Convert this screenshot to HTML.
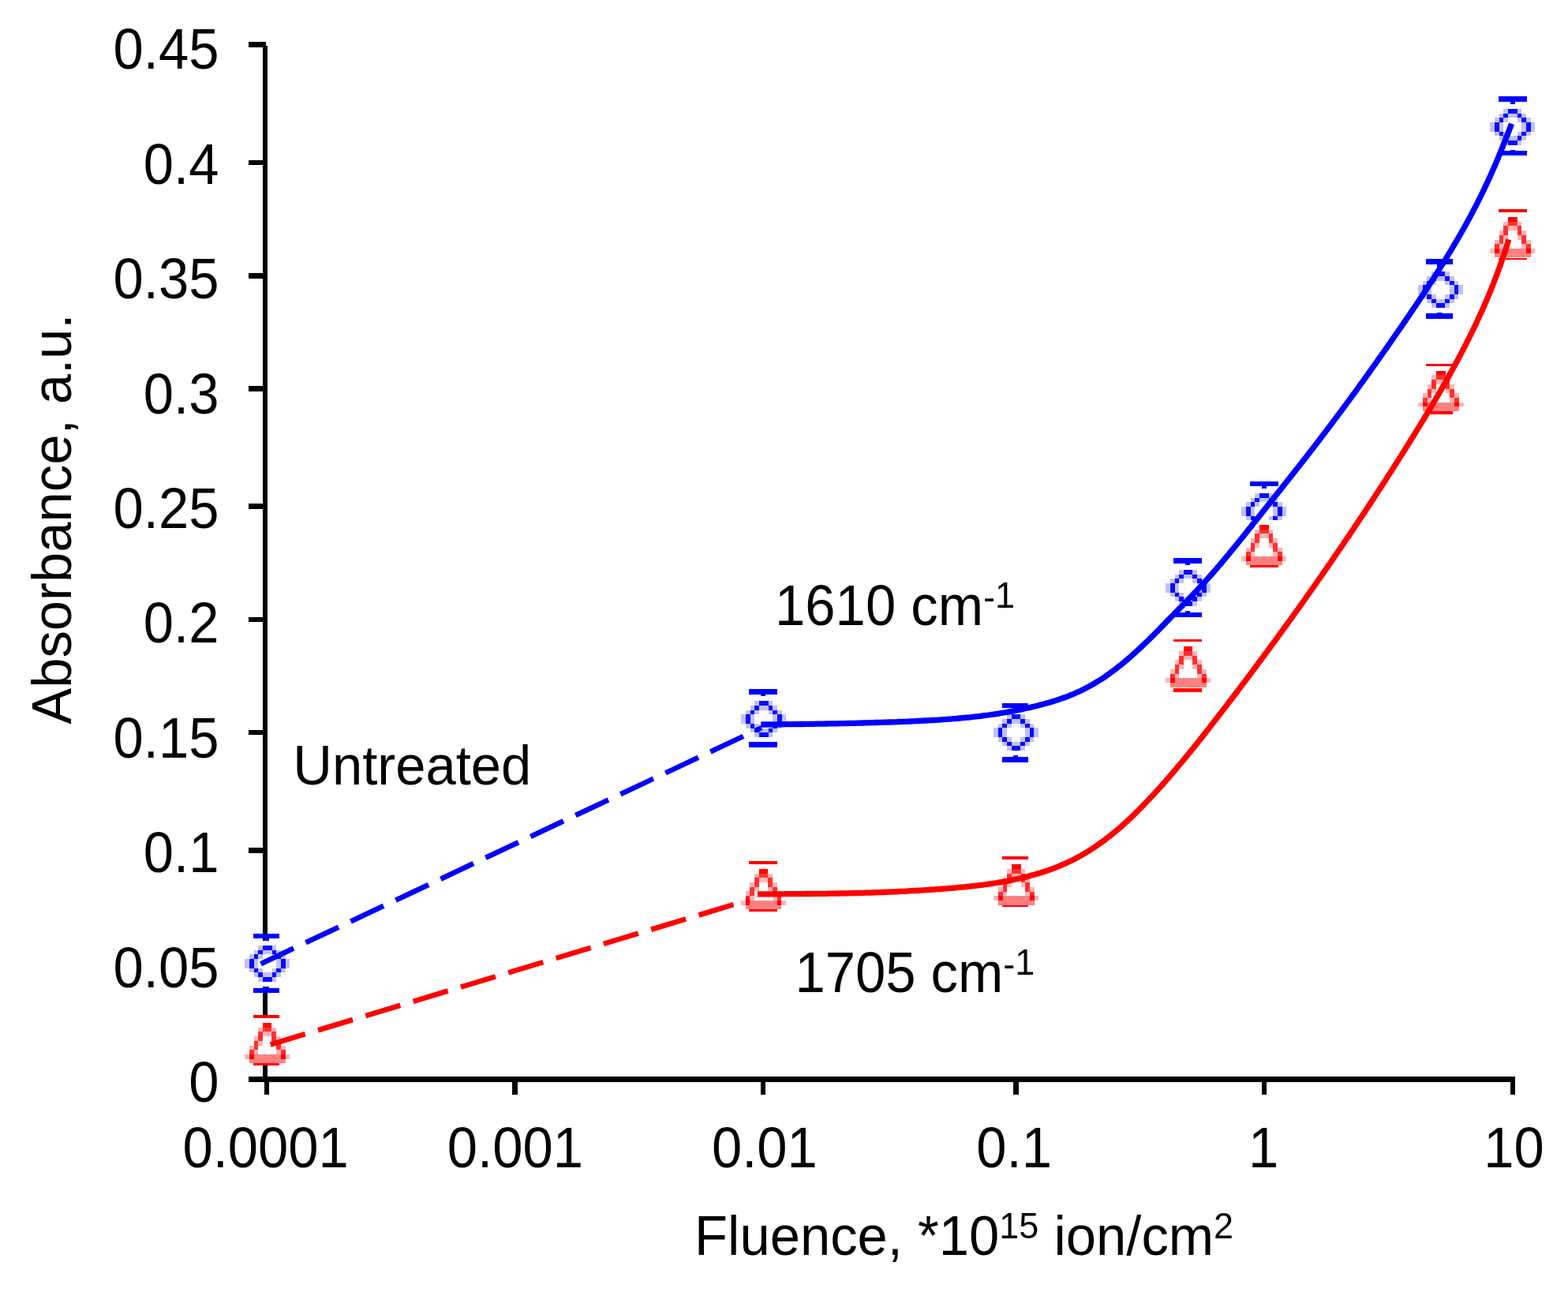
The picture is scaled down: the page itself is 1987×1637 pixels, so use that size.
<!DOCTYPE html>
<html><head><meta charset="utf-8"><title>Absorbance vs Fluence</title>
<style>html,body{margin:0;padding:0;background:#fff;} svg{display:block} text{font-family:"Liberation Sans", Arial, sans-serif;font-size:68.8px;fill:#000}</style>
</head><body>
<svg width="1987" height="1637" viewBox="0 0 1987 1637">
<rect width="1987" height="1637" fill="#fff"/>
<g shape-rendering="crispEdges">
<rect x="333" y="58" width="6" height="1313" fill="#000"/>
<rect x="315" y="53.2" width="22" height="6.6" fill="#000"/>
<rect x="315" y="202.7" width="22" height="6.6" fill="#000"/>
<rect x="315" y="346.2" width="22" height="6.6" fill="#000"/>
<rect x="315" y="489.1" width="22" height="6.6" fill="#000"/>
<rect x="315" y="638.2" width="22" height="6.6" fill="#000"/>
<rect x="315" y="781.7" width="22" height="6.6" fill="#000"/>
<rect x="315" y="924.7" width="22" height="6.6" fill="#000"/>
<rect x="315" y="1074.2" width="22" height="6.6" fill="#000"/>
<rect x="315" y="1217.7" width="22" height="6.6" fill="#000"/>
<rect x="315" y="1364.2" width="22" height="6.6" fill="#000"/>
<rect x="315" y="1364.2" width="1604.5" height="6.8" fill="#000"/>
<rect x="335" y="1370" width="6.0" height="17" fill="#000"/>
<rect x="649.3" y="1370" width="6.7" height="17" fill="#000"/>
<rect x="964" y="1370" width="6.0" height="17" fill="#000"/>
<rect x="1283.8" y="1370" width="6.8" height="17" fill="#000"/>
<rect x="1598.8" y="1370" width="6.3" height="17" fill="#000"/>
<rect x="1914" y="1370" width="6.0" height="17" fill="#000"/>
<rect x="334.5" y="1185.9499999999998" width="6" height="69.0" fill="#0000ff"/>
<rect x="321" y="1183.1" width="33.0" height="5.7" fill="#0000ff"/>
<rect x="321" y="1252" width="33.0" height="5.8" fill="#0000ff"/>
<rect x="964.0" y="876.5" width="6" height="66.9" fill="#0000ff"/>
<rect x="949" y="873" width="36.0" height="7.0" fill="#0000ff"/>
<rect x="949" y="940" width="36.0" height="6.7" fill="#0000ff"/>
<rect x="1283.5" y="893.9" width="6" height="68.5" fill="#0000ff"/>
<rect x="1270" y="891" width="33.0" height="5.8" fill="#0000ff"/>
<rect x="1270" y="959.1" width="33.0" height="6.6" fill="#0000ff"/>
<rect x="1502.0" y="710.45" width="6" height="68.5" fill="#0000ff"/>
<rect x="1487" y="707.1" width="36.0" height="6.7" fill="#0000ff"/>
<rect x="1487" y="776.2" width="36.0" height="5.5" fill="#0000ff"/>
<rect x="1599.0" y="612.95" width="6" height="42.8" fill="#0000ff"/>
<rect x="1584" y="610.1" width="36.0" height="5.7" fill="#0000ff"/>
<rect x="1821.0" y="331.4" width="6" height="69.2" fill="#0000ff"/>
<rect x="1807" y="328" width="34.0" height="6.8" fill="#0000ff"/>
<rect x="1807" y="397.1" width="34.0" height="6.9" fill="#0000ff"/>
<rect x="1914.0" y="125.45" width="6" height="68.5" fill="#0000ff"/>
<rect x="1899" y="122" width="36.0" height="6.9" fill="#0000ff"/>
<rect x="1899" y="191" width="36.0" height="5.9" fill="#0000ff"/>
<rect x="321" y="1286.1" width="33.0" height="3.6" fill="#ff0000"/>
<rect x="321" y="1347" width="33.0" height="2.7" fill="#ff0000"/>
<rect x="949" y="1091.1" width="36.0" height="3.7" fill="#ff0000"/>
<rect x="949" y="1152" width="36.0" height="2.8" fill="#ff0000"/>
<rect x="1270" y="1085" width="33.0" height="3.8" fill="#ff0000"/>
<rect x="1270" y="1146.2" width="33.0" height="2.5" fill="#ff0000"/>
<rect x="1487" y="810.1" width="36.0" height="2.7" fill="#ff0000"/>
<rect x="1487" y="872.1" width="36.0" height="4.9" fill="#ff0000"/>
<rect x="1584" y="715.9" width="36.0" height="3.0" fill="#ff0000"/>
<rect x="1807" y="461" width="34.0" height="3.0" fill="#ff0000"/>
<rect x="1807" y="521" width="34.0" height="3.8" fill="#ff0000"/>
<rect x="1899" y="265" width="36.0" height="3.9" fill="#ff0000"/>
<rect x="1899" y="326.6" width="36.0" height="2.2" fill="#ff0000"/>
<rect x="310.20" y="1192.15" width="57.20" height="57.50" fill="#fff"/>
<rect x="327.36" y="1197.90" width="5.72" height="5.75" fill="#c0c0ff"/>
<rect x="333.08" y="1197.90" width="11.44" height="5.75" fill="#0a0aff"/>
<rect x="344.52" y="1197.90" width="5.72" height="5.75" fill="#c0c0ff"/>
<rect x="321.64" y="1203.65" width="5.72" height="5.75" fill="#c0c0ff"/>
<rect x="327.36" y="1203.65" width="5.72" height="5.75" fill="#0a0aff"/>
<rect x="333.08" y="1203.65" width="11.44" height="5.75" fill="#c0c0ff"/>
<rect x="344.52" y="1203.65" width="5.72" height="5.75" fill="#0a0aff"/>
<rect x="350.24" y="1203.65" width="5.72" height="5.75" fill="#c0c0ff"/>
<rect x="315.92" y="1209.40" width="5.72" height="5.75" fill="#c0c0ff"/>
<rect x="321.64" y="1209.40" width="5.72" height="5.75" fill="#0a0aff"/>
<rect x="327.36" y="1209.40" width="5.72" height="5.75" fill="#c0c0ff"/>
<rect x="344.52" y="1209.40" width="5.72" height="5.75" fill="#c0c0ff"/>
<rect x="350.24" y="1209.40" width="5.72" height="5.75" fill="#0a0aff"/>
<rect x="355.96" y="1209.40" width="5.72" height="5.75" fill="#c0c0ff"/>
<rect x="310.20" y="1215.15" width="5.72" height="5.75" fill="#c0c0ff"/>
<rect x="315.92" y="1215.15" width="5.72" height="5.75" fill="#0a0aff"/>
<rect x="321.64" y="1215.15" width="5.72" height="5.75" fill="#c0c0ff"/>
<rect x="350.24" y="1215.15" width="5.72" height="5.75" fill="#c0c0ff"/>
<rect x="355.96" y="1215.15" width="5.72" height="5.75" fill="#0a0aff"/>
<rect x="361.68" y="1215.15" width="5.72" height="5.75" fill="#c0c0ff"/>
<rect x="310.20" y="1220.90" width="5.72" height="5.75" fill="#c0c0ff"/>
<rect x="315.92" y="1220.90" width="5.72" height="5.75" fill="#0a0aff"/>
<rect x="321.64" y="1220.90" width="5.72" height="5.75" fill="#c0c0ff"/>
<rect x="350.24" y="1220.90" width="5.72" height="5.75" fill="#c0c0ff"/>
<rect x="355.96" y="1220.90" width="5.72" height="5.75" fill="#0a0aff"/>
<rect x="361.68" y="1220.90" width="5.72" height="5.75" fill="#c0c0ff"/>
<rect x="315.92" y="1226.65" width="5.72" height="5.75" fill="#c0c0ff"/>
<rect x="321.64" y="1226.65" width="5.72" height="5.75" fill="#0a0aff"/>
<rect x="327.36" y="1226.65" width="5.72" height="5.75" fill="#c0c0ff"/>
<rect x="344.52" y="1226.65" width="5.72" height="5.75" fill="#c0c0ff"/>
<rect x="350.24" y="1226.65" width="5.72" height="5.75" fill="#0a0aff"/>
<rect x="355.96" y="1226.65" width="5.72" height="5.75" fill="#c0c0ff"/>
<rect x="321.64" y="1232.40" width="5.72" height="5.75" fill="#c0c0ff"/>
<rect x="327.36" y="1232.40" width="5.72" height="5.75" fill="#0a0aff"/>
<rect x="333.08" y="1232.40" width="11.44" height="5.75" fill="#c0c0ff"/>
<rect x="344.52" y="1232.40" width="5.72" height="5.75" fill="#0a0aff"/>
<rect x="350.24" y="1232.40" width="5.72" height="5.75" fill="#c0c0ff"/>
<rect x="327.36" y="1238.15" width="5.72" height="5.75" fill="#c0c0ff"/>
<rect x="333.08" y="1238.15" width="11.44" height="5.75" fill="#0a0aff"/>
<rect x="344.52" y="1238.15" width="5.72" height="5.75" fill="#c0c0ff"/>
<rect x="939.20" y="882.25" width="57.20" height="57.50" fill="#fff"/>
<rect x="956.36" y="888.00" width="5.72" height="5.75" fill="#c0c0ff"/>
<rect x="962.08" y="888.00" width="11.44" height="5.75" fill="#0a0aff"/>
<rect x="973.52" y="888.00" width="5.72" height="5.75" fill="#c0c0ff"/>
<rect x="950.64" y="893.75" width="5.72" height="5.75" fill="#c0c0ff"/>
<rect x="956.36" y="893.75" width="5.72" height="5.75" fill="#0a0aff"/>
<rect x="962.08" y="893.75" width="11.44" height="5.75" fill="#c0c0ff"/>
<rect x="973.52" y="893.75" width="5.72" height="5.75" fill="#0a0aff"/>
<rect x="979.24" y="893.75" width="5.72" height="5.75" fill="#c0c0ff"/>
<rect x="944.92" y="899.50" width="5.72" height="5.75" fill="#c0c0ff"/>
<rect x="950.64" y="899.50" width="5.72" height="5.75" fill="#0a0aff"/>
<rect x="956.36" y="899.50" width="5.72" height="5.75" fill="#c0c0ff"/>
<rect x="973.52" y="899.50" width="5.72" height="5.75" fill="#c0c0ff"/>
<rect x="979.24" y="899.50" width="5.72" height="5.75" fill="#0a0aff"/>
<rect x="984.96" y="899.50" width="5.72" height="5.75" fill="#c0c0ff"/>
<rect x="939.20" y="905.25" width="5.72" height="5.75" fill="#c0c0ff"/>
<rect x="944.92" y="905.25" width="5.72" height="5.75" fill="#0a0aff"/>
<rect x="950.64" y="905.25" width="5.72" height="5.75" fill="#c0c0ff"/>
<rect x="979.24" y="905.25" width="5.72" height="5.75" fill="#c0c0ff"/>
<rect x="984.96" y="905.25" width="5.72" height="5.75" fill="#0a0aff"/>
<rect x="990.68" y="905.25" width="5.72" height="5.75" fill="#c0c0ff"/>
<rect x="939.20" y="911.00" width="5.72" height="5.75" fill="#c0c0ff"/>
<rect x="944.92" y="911.00" width="5.72" height="5.75" fill="#0a0aff"/>
<rect x="950.64" y="911.00" width="5.72" height="5.75" fill="#c0c0ff"/>
<rect x="979.24" y="911.00" width="5.72" height="5.75" fill="#c0c0ff"/>
<rect x="984.96" y="911.00" width="5.72" height="5.75" fill="#0a0aff"/>
<rect x="990.68" y="911.00" width="5.72" height="5.75" fill="#c0c0ff"/>
<rect x="944.92" y="916.75" width="5.72" height="5.75" fill="#c0c0ff"/>
<rect x="950.64" y="916.75" width="5.72" height="5.75" fill="#0a0aff"/>
<rect x="956.36" y="916.75" width="5.72" height="5.75" fill="#c0c0ff"/>
<rect x="973.52" y="916.75" width="5.72" height="5.75" fill="#c0c0ff"/>
<rect x="979.24" y="916.75" width="5.72" height="5.75" fill="#0a0aff"/>
<rect x="984.96" y="916.75" width="5.72" height="5.75" fill="#c0c0ff"/>
<rect x="950.64" y="922.50" width="5.72" height="5.75" fill="#c0c0ff"/>
<rect x="956.36" y="922.50" width="5.72" height="5.75" fill="#0a0aff"/>
<rect x="962.08" y="922.50" width="11.44" height="5.75" fill="#c0c0ff"/>
<rect x="973.52" y="922.50" width="5.72" height="5.75" fill="#0a0aff"/>
<rect x="979.24" y="922.50" width="5.72" height="5.75" fill="#c0c0ff"/>
<rect x="956.36" y="928.25" width="5.72" height="5.75" fill="#c0c0ff"/>
<rect x="962.08" y="928.25" width="11.44" height="5.75" fill="#0a0aff"/>
<rect x="973.52" y="928.25" width="5.72" height="5.75" fill="#c0c0ff"/>
<rect x="1259.00" y="899.25" width="57.20" height="57.50" fill="#fff"/>
<rect x="1276.16" y="905.00" width="5.72" height="5.75" fill="#c0c0ff"/>
<rect x="1281.88" y="905.00" width="11.44" height="5.75" fill="#0a0aff"/>
<rect x="1293.32" y="905.00" width="5.72" height="5.75" fill="#c0c0ff"/>
<rect x="1270.44" y="910.75" width="5.72" height="5.75" fill="#c0c0ff"/>
<rect x="1276.16" y="910.75" width="5.72" height="5.75" fill="#0a0aff"/>
<rect x="1281.88" y="910.75" width="11.44" height="5.75" fill="#c0c0ff"/>
<rect x="1293.32" y="910.75" width="5.72" height="5.75" fill="#0a0aff"/>
<rect x="1299.04" y="910.75" width="5.72" height="5.75" fill="#c0c0ff"/>
<rect x="1264.72" y="916.50" width="5.72" height="5.75" fill="#c0c0ff"/>
<rect x="1270.44" y="916.50" width="5.72" height="5.75" fill="#0a0aff"/>
<rect x="1276.16" y="916.50" width="5.72" height="5.75" fill="#c0c0ff"/>
<rect x="1293.32" y="916.50" width="5.72" height="5.75" fill="#c0c0ff"/>
<rect x="1299.04" y="916.50" width="5.72" height="5.75" fill="#0a0aff"/>
<rect x="1304.76" y="916.50" width="5.72" height="5.75" fill="#c0c0ff"/>
<rect x="1259.00" y="922.25" width="5.72" height="5.75" fill="#c0c0ff"/>
<rect x="1264.72" y="922.25" width="5.72" height="5.75" fill="#0a0aff"/>
<rect x="1270.44" y="922.25" width="5.72" height="5.75" fill="#c0c0ff"/>
<rect x="1299.04" y="922.25" width="5.72" height="5.75" fill="#c0c0ff"/>
<rect x="1304.76" y="922.25" width="5.72" height="5.75" fill="#0a0aff"/>
<rect x="1310.48" y="922.25" width="5.72" height="5.75" fill="#c0c0ff"/>
<rect x="1259.00" y="928.00" width="5.72" height="5.75" fill="#c0c0ff"/>
<rect x="1264.72" y="928.00" width="5.72" height="5.75" fill="#0a0aff"/>
<rect x="1270.44" y="928.00" width="5.72" height="5.75" fill="#c0c0ff"/>
<rect x="1299.04" y="928.00" width="5.72" height="5.75" fill="#c0c0ff"/>
<rect x="1304.76" y="928.00" width="5.72" height="5.75" fill="#0a0aff"/>
<rect x="1310.48" y="928.00" width="5.72" height="5.75" fill="#c0c0ff"/>
<rect x="1264.72" y="933.75" width="5.72" height="5.75" fill="#c0c0ff"/>
<rect x="1270.44" y="933.75" width="5.72" height="5.75" fill="#0a0aff"/>
<rect x="1276.16" y="933.75" width="5.72" height="5.75" fill="#c0c0ff"/>
<rect x="1293.32" y="933.75" width="5.72" height="5.75" fill="#c0c0ff"/>
<rect x="1299.04" y="933.75" width="5.72" height="5.75" fill="#0a0aff"/>
<rect x="1304.76" y="933.75" width="5.72" height="5.75" fill="#c0c0ff"/>
<rect x="1270.44" y="939.50" width="5.72" height="5.75" fill="#c0c0ff"/>
<rect x="1276.16" y="939.50" width="5.72" height="5.75" fill="#0a0aff"/>
<rect x="1281.88" y="939.50" width="11.44" height="5.75" fill="#c0c0ff"/>
<rect x="1293.32" y="939.50" width="5.72" height="5.75" fill="#0a0aff"/>
<rect x="1299.04" y="939.50" width="5.72" height="5.75" fill="#c0c0ff"/>
<rect x="1276.16" y="945.25" width="5.72" height="5.75" fill="#c0c0ff"/>
<rect x="1281.88" y="945.25" width="11.44" height="5.75" fill="#0a0aff"/>
<rect x="1293.32" y="945.25" width="5.72" height="5.75" fill="#c0c0ff"/>
<rect x="1477.10" y="716.05" width="57.20" height="57.50" fill="#fff"/>
<rect x="1494.26" y="721.80" width="5.72" height="5.75" fill="#c0c0ff"/>
<rect x="1499.98" y="721.80" width="11.44" height="5.75" fill="#0a0aff"/>
<rect x="1511.42" y="721.80" width="5.72" height="5.75" fill="#c0c0ff"/>
<rect x="1488.54" y="727.55" width="5.72" height="5.75" fill="#c0c0ff"/>
<rect x="1494.26" y="727.55" width="5.72" height="5.75" fill="#0a0aff"/>
<rect x="1499.98" y="727.55" width="11.44" height="5.75" fill="#c0c0ff"/>
<rect x="1511.42" y="727.55" width="5.72" height="5.75" fill="#0a0aff"/>
<rect x="1517.14" y="727.55" width="5.72" height="5.75" fill="#c0c0ff"/>
<rect x="1482.82" y="733.30" width="5.72" height="5.75" fill="#c0c0ff"/>
<rect x="1488.54" y="733.30" width="5.72" height="5.75" fill="#0a0aff"/>
<rect x="1494.26" y="733.30" width="5.72" height="5.75" fill="#c0c0ff"/>
<rect x="1511.42" y="733.30" width="5.72" height="5.75" fill="#c0c0ff"/>
<rect x="1517.14" y="733.30" width="5.72" height="5.75" fill="#0a0aff"/>
<rect x="1522.86" y="733.30" width="5.72" height="5.75" fill="#c0c0ff"/>
<rect x="1477.10" y="739.05" width="5.72" height="5.75" fill="#c0c0ff"/>
<rect x="1482.82" y="739.05" width="5.72" height="5.75" fill="#0a0aff"/>
<rect x="1488.54" y="739.05" width="5.72" height="5.75" fill="#c0c0ff"/>
<rect x="1517.14" y="739.05" width="5.72" height="5.75" fill="#c0c0ff"/>
<rect x="1522.86" y="739.05" width="5.72" height="5.75" fill="#0a0aff"/>
<rect x="1528.58" y="739.05" width="5.72" height="5.75" fill="#c0c0ff"/>
<rect x="1477.10" y="744.80" width="5.72" height="5.75" fill="#c0c0ff"/>
<rect x="1482.82" y="744.80" width="5.72" height="5.75" fill="#0a0aff"/>
<rect x="1488.54" y="744.80" width="5.72" height="5.75" fill="#c0c0ff"/>
<rect x="1517.14" y="744.80" width="5.72" height="5.75" fill="#c0c0ff"/>
<rect x="1522.86" y="744.80" width="5.72" height="5.75" fill="#0a0aff"/>
<rect x="1528.58" y="744.80" width="5.72" height="5.75" fill="#c0c0ff"/>
<rect x="1482.82" y="750.55" width="5.72" height="5.75" fill="#c0c0ff"/>
<rect x="1488.54" y="750.55" width="5.72" height="5.75" fill="#0a0aff"/>
<rect x="1494.26" y="750.55" width="5.72" height="5.75" fill="#c0c0ff"/>
<rect x="1511.42" y="750.55" width="5.72" height="5.75" fill="#c0c0ff"/>
<rect x="1517.14" y="750.55" width="5.72" height="5.75" fill="#0a0aff"/>
<rect x="1522.86" y="750.55" width="5.72" height="5.75" fill="#c0c0ff"/>
<rect x="1488.54" y="756.30" width="5.72" height="5.75" fill="#c0c0ff"/>
<rect x="1494.26" y="756.30" width="5.72" height="5.75" fill="#0a0aff"/>
<rect x="1499.98" y="756.30" width="11.44" height="5.75" fill="#c0c0ff"/>
<rect x="1511.42" y="756.30" width="5.72" height="5.75" fill="#0a0aff"/>
<rect x="1517.14" y="756.30" width="5.72" height="5.75" fill="#c0c0ff"/>
<rect x="1494.26" y="762.05" width="5.72" height="5.75" fill="#c0c0ff"/>
<rect x="1499.98" y="762.05" width="11.44" height="5.75" fill="#0a0aff"/>
<rect x="1511.42" y="762.05" width="5.72" height="5.75" fill="#c0c0ff"/>
<rect x="1573.20" y="619.15" width="57.20" height="57.50" fill="#fff"/>
<rect x="1590.36" y="624.90" width="5.72" height="5.75" fill="#c0c0ff"/>
<rect x="1596.08" y="624.90" width="11.44" height="5.75" fill="#0a0aff"/>
<rect x="1607.52" y="624.90" width="5.72" height="5.75" fill="#c0c0ff"/>
<rect x="1584.64" y="630.65" width="5.72" height="5.75" fill="#c0c0ff"/>
<rect x="1590.36" y="630.65" width="5.72" height="5.75" fill="#0a0aff"/>
<rect x="1596.08" y="630.65" width="11.44" height="5.75" fill="#c0c0ff"/>
<rect x="1607.52" y="630.65" width="5.72" height="5.75" fill="#0a0aff"/>
<rect x="1613.24" y="630.65" width="5.72" height="5.75" fill="#c0c0ff"/>
<rect x="1578.92" y="636.40" width="5.72" height="5.75" fill="#c0c0ff"/>
<rect x="1584.64" y="636.40" width="5.72" height="5.75" fill="#0a0aff"/>
<rect x="1590.36" y="636.40" width="5.72" height="5.75" fill="#c0c0ff"/>
<rect x="1607.52" y="636.40" width="5.72" height="5.75" fill="#c0c0ff"/>
<rect x="1613.24" y="636.40" width="5.72" height="5.75" fill="#0a0aff"/>
<rect x="1618.96" y="636.40" width="5.72" height="5.75" fill="#c0c0ff"/>
<rect x="1573.20" y="642.15" width="5.72" height="5.75" fill="#c0c0ff"/>
<rect x="1578.92" y="642.15" width="5.72" height="5.75" fill="#0a0aff"/>
<rect x="1584.64" y="642.15" width="5.72" height="5.75" fill="#c0c0ff"/>
<rect x="1613.24" y="642.15" width="5.72" height="5.75" fill="#c0c0ff"/>
<rect x="1618.96" y="642.15" width="5.72" height="5.75" fill="#0a0aff"/>
<rect x="1624.68" y="642.15" width="5.72" height="5.75" fill="#c0c0ff"/>
<rect x="1573.20" y="647.90" width="5.72" height="5.75" fill="#c0c0ff"/>
<rect x="1578.92" y="647.90" width="5.72" height="5.75" fill="#0a0aff"/>
<rect x="1584.64" y="647.90" width="5.72" height="5.75" fill="#c0c0ff"/>
<rect x="1613.24" y="647.90" width="5.72" height="5.75" fill="#c0c0ff"/>
<rect x="1618.96" y="647.90" width="5.72" height="5.75" fill="#0a0aff"/>
<rect x="1624.68" y="647.90" width="5.72" height="5.75" fill="#c0c0ff"/>
<rect x="1578.92" y="653.65" width="5.72" height="5.75" fill="#c0c0ff"/>
<rect x="1584.64" y="653.65" width="5.72" height="5.75" fill="#0a0aff"/>
<rect x="1590.36" y="653.65" width="5.72" height="5.75" fill="#c0c0ff"/>
<rect x="1607.52" y="653.65" width="5.72" height="5.75" fill="#c0c0ff"/>
<rect x="1613.24" y="653.65" width="5.72" height="5.75" fill="#0a0aff"/>
<rect x="1618.96" y="653.65" width="5.72" height="5.75" fill="#c0c0ff"/>
<rect x="1797.00" y="338.25" width="57.20" height="57.50" fill="#fff"/>
<rect x="1814.16" y="344.00" width="5.72" height="5.75" fill="#c0c0ff"/>
<rect x="1819.88" y="344.00" width="11.44" height="5.75" fill="#0a0aff"/>
<rect x="1831.32" y="344.00" width="5.72" height="5.75" fill="#c0c0ff"/>
<rect x="1808.44" y="349.75" width="5.72" height="5.75" fill="#c0c0ff"/>
<rect x="1814.16" y="349.75" width="5.72" height="5.75" fill="#0a0aff"/>
<rect x="1819.88" y="349.75" width="11.44" height="5.75" fill="#c0c0ff"/>
<rect x="1831.32" y="349.75" width="5.72" height="5.75" fill="#0a0aff"/>
<rect x="1837.04" y="349.75" width="5.72" height="5.75" fill="#c0c0ff"/>
<rect x="1802.72" y="355.50" width="5.72" height="5.75" fill="#c0c0ff"/>
<rect x="1808.44" y="355.50" width="5.72" height="5.75" fill="#0a0aff"/>
<rect x="1814.16" y="355.50" width="5.72" height="5.75" fill="#c0c0ff"/>
<rect x="1831.32" y="355.50" width="5.72" height="5.75" fill="#c0c0ff"/>
<rect x="1837.04" y="355.50" width="5.72" height="5.75" fill="#0a0aff"/>
<rect x="1842.76" y="355.50" width="5.72" height="5.75" fill="#c0c0ff"/>
<rect x="1797.00" y="361.25" width="5.72" height="5.75" fill="#c0c0ff"/>
<rect x="1802.72" y="361.25" width="5.72" height="5.75" fill="#0a0aff"/>
<rect x="1808.44" y="361.25" width="5.72" height="5.75" fill="#c0c0ff"/>
<rect x="1837.04" y="361.25" width="5.72" height="5.75" fill="#c0c0ff"/>
<rect x="1842.76" y="361.25" width="5.72" height="5.75" fill="#0a0aff"/>
<rect x="1848.48" y="361.25" width="5.72" height="5.75" fill="#c0c0ff"/>
<rect x="1797.00" y="367.00" width="5.72" height="5.75" fill="#c0c0ff"/>
<rect x="1802.72" y="367.00" width="5.72" height="5.75" fill="#0a0aff"/>
<rect x="1808.44" y="367.00" width="5.72" height="5.75" fill="#c0c0ff"/>
<rect x="1837.04" y="367.00" width="5.72" height="5.75" fill="#c0c0ff"/>
<rect x="1842.76" y="367.00" width="5.72" height="5.75" fill="#0a0aff"/>
<rect x="1848.48" y="367.00" width="5.72" height="5.75" fill="#c0c0ff"/>
<rect x="1802.72" y="372.75" width="5.72" height="5.75" fill="#c0c0ff"/>
<rect x="1808.44" y="372.75" width="5.72" height="5.75" fill="#0a0aff"/>
<rect x="1814.16" y="372.75" width="5.72" height="5.75" fill="#c0c0ff"/>
<rect x="1831.32" y="372.75" width="5.72" height="5.75" fill="#c0c0ff"/>
<rect x="1837.04" y="372.75" width="5.72" height="5.75" fill="#0a0aff"/>
<rect x="1842.76" y="372.75" width="5.72" height="5.75" fill="#c0c0ff"/>
<rect x="1808.44" y="378.50" width="5.72" height="5.75" fill="#c0c0ff"/>
<rect x="1814.16" y="378.50" width="5.72" height="5.75" fill="#0a0aff"/>
<rect x="1819.88" y="378.50" width="11.44" height="5.75" fill="#c0c0ff"/>
<rect x="1831.32" y="378.50" width="5.72" height="5.75" fill="#0a0aff"/>
<rect x="1837.04" y="378.50" width="5.72" height="5.75" fill="#c0c0ff"/>
<rect x="1814.16" y="384.25" width="5.72" height="5.75" fill="#c0c0ff"/>
<rect x="1819.88" y="384.25" width="11.44" height="5.75" fill="#0a0aff"/>
<rect x="1831.32" y="384.25" width="5.72" height="5.75" fill="#c0c0ff"/>
<rect x="1888.20" y="132.15" width="57.20" height="57.50" fill="#fff"/>
<rect x="1905.36" y="137.90" width="5.72" height="5.75" fill="#c0c0ff"/>
<rect x="1911.08" y="137.90" width="11.44" height="5.75" fill="#0a0aff"/>
<rect x="1922.52" y="137.90" width="5.72" height="5.75" fill="#c0c0ff"/>
<rect x="1899.64" y="143.65" width="5.72" height="5.75" fill="#c0c0ff"/>
<rect x="1905.36" y="143.65" width="5.72" height="5.75" fill="#0a0aff"/>
<rect x="1911.08" y="143.65" width="11.44" height="5.75" fill="#c0c0ff"/>
<rect x="1922.52" y="143.65" width="5.72" height="5.75" fill="#0a0aff"/>
<rect x="1928.24" y="143.65" width="5.72" height="5.75" fill="#c0c0ff"/>
<rect x="1893.92" y="149.40" width="5.72" height="5.75" fill="#c0c0ff"/>
<rect x="1899.64" y="149.40" width="5.72" height="5.75" fill="#0a0aff"/>
<rect x="1905.36" y="149.40" width="5.72" height="5.75" fill="#c0c0ff"/>
<rect x="1922.52" y="149.40" width="5.72" height="5.75" fill="#c0c0ff"/>
<rect x="1928.24" y="149.40" width="5.72" height="5.75" fill="#0a0aff"/>
<rect x="1933.96" y="149.40" width="5.72" height="5.75" fill="#c0c0ff"/>
<rect x="1888.20" y="155.15" width="5.72" height="5.75" fill="#c0c0ff"/>
<rect x="1893.92" y="155.15" width="5.72" height="5.75" fill="#0a0aff"/>
<rect x="1899.64" y="155.15" width="5.72" height="5.75" fill="#c0c0ff"/>
<rect x="1928.24" y="155.15" width="5.72" height="5.75" fill="#c0c0ff"/>
<rect x="1933.96" y="155.15" width="5.72" height="5.75" fill="#0a0aff"/>
<rect x="1939.68" y="155.15" width="5.72" height="5.75" fill="#c0c0ff"/>
<rect x="1888.20" y="160.90" width="5.72" height="5.75" fill="#c0c0ff"/>
<rect x="1893.92" y="160.90" width="5.72" height="5.75" fill="#0a0aff"/>
<rect x="1899.64" y="160.90" width="5.72" height="5.75" fill="#c0c0ff"/>
<rect x="1928.24" y="160.90" width="5.72" height="5.75" fill="#c0c0ff"/>
<rect x="1933.96" y="160.90" width="5.72" height="5.75" fill="#0a0aff"/>
<rect x="1939.68" y="160.90" width="5.72" height="5.75" fill="#c0c0ff"/>
<rect x="1893.92" y="166.65" width="5.72" height="5.75" fill="#c0c0ff"/>
<rect x="1899.64" y="166.65" width="5.72" height="5.75" fill="#0a0aff"/>
<rect x="1905.36" y="166.65" width="5.72" height="5.75" fill="#c0c0ff"/>
<rect x="1922.52" y="166.65" width="5.72" height="5.75" fill="#c0c0ff"/>
<rect x="1928.24" y="166.65" width="5.72" height="5.75" fill="#0a0aff"/>
<rect x="1933.96" y="166.65" width="5.72" height="5.75" fill="#c0c0ff"/>
<rect x="1899.64" y="172.40" width="5.72" height="5.75" fill="#c0c0ff"/>
<rect x="1905.36" y="172.40" width="5.72" height="5.75" fill="#0a0aff"/>
<rect x="1911.08" y="172.40" width="11.44" height="5.75" fill="#c0c0ff"/>
<rect x="1922.52" y="172.40" width="5.72" height="5.75" fill="#0a0aff"/>
<rect x="1928.24" y="172.40" width="5.72" height="5.75" fill="#c0c0ff"/>
<rect x="1905.36" y="178.15" width="5.72" height="5.75" fill="#c0c0ff"/>
<rect x="1911.08" y="178.15" width="11.44" height="5.75" fill="#0a0aff"/>
<rect x="1922.52" y="178.15" width="5.72" height="5.75" fill="#c0c0ff"/>
<rect x="310.10" y="1290.18" width="57.20" height="57.20" fill="#fff"/>
<rect x="332.98" y="1295.90" width="11.44" height="5.72" fill="#ff0000"/>
<rect x="327.26" y="1301.62" width="5.72" height="5.72" fill="#ffb4b4"/>
<rect x="332.98" y="1301.62" width="11.44" height="5.72" fill="#ff3030"/>
<rect x="344.42" y="1301.62" width="5.72" height="5.72" fill="#ffb4b4"/>
<rect x="327.26" y="1307.34" width="5.72" height="5.72" fill="#ff3030"/>
<rect x="332.98" y="1307.34" width="11.44" height="5.72" fill="#ffb4b4"/>
<rect x="344.42" y="1307.34" width="5.72" height="5.72" fill="#ff3030"/>
<rect x="321.54" y="1313.06" width="5.72" height="5.72" fill="#ffb4b4"/>
<rect x="327.26" y="1313.06" width="5.72" height="5.72" fill="#ff3030"/>
<rect x="344.42" y="1313.06" width="5.72" height="5.72" fill="#ff3030"/>
<rect x="350.14" y="1313.06" width="5.72" height="5.72" fill="#ffb4b4"/>
<rect x="321.54" y="1318.78" width="5.72" height="5.72" fill="#ff3030"/>
<rect x="327.26" y="1318.78" width="5.72" height="5.72" fill="#ffb4b4"/>
<rect x="344.42" y="1318.78" width="5.72" height="5.72" fill="#ffb4b4"/>
<rect x="350.14" y="1318.78" width="5.72" height="5.72" fill="#ff3030"/>
<rect x="315.82" y="1324.50" width="5.72" height="5.72" fill="#ffb4b4"/>
<rect x="321.54" y="1324.50" width="5.72" height="5.72" fill="#ff3030"/>
<rect x="350.14" y="1324.50" width="5.72" height="5.72" fill="#ff3030"/>
<rect x="355.86" y="1324.50" width="5.72" height="5.72" fill="#ffb4b4"/>
<rect x="315.82" y="1330.22" width="5.72" height="5.72" fill="#ff3030"/>
<rect x="321.54" y="1330.22" width="5.72" height="5.72" fill="#ffb4b4"/>
<rect x="350.14" y="1330.22" width="5.72" height="5.72" fill="#ffb4b4"/>
<rect x="355.86" y="1330.22" width="5.72" height="5.72" fill="#ff3030"/>
<rect x="310.10" y="1335.94" width="5.72" height="5.72" fill="#ffb4b4"/>
<rect x="315.82" y="1335.94" width="5.72" height="5.72" fill="#ff0000"/>
<rect x="321.54" y="1335.94" width="34.32" height="5.72" fill="#ff8080"/>
<rect x="355.86" y="1335.94" width="5.72" height="5.72" fill="#ff0000"/>
<rect x="361.58" y="1335.94" width="5.72" height="5.72" fill="#ffb4b4"/>
<rect x="315.82" y="1341.66" width="45.76" height="5.72" fill="#ff8080"/>
<rect x="939.00" y="1095.08" width="57.20" height="57.20" fill="#fff"/>
<rect x="961.88" y="1100.80" width="11.44" height="5.72" fill="#ff0000"/>
<rect x="956.16" y="1106.52" width="5.72" height="5.72" fill="#ffb4b4"/>
<rect x="961.88" y="1106.52" width="11.44" height="5.72" fill="#ff3030"/>
<rect x="973.32" y="1106.52" width="5.72" height="5.72" fill="#ffb4b4"/>
<rect x="956.16" y="1112.24" width="5.72" height="5.72" fill="#ff3030"/>
<rect x="961.88" y="1112.24" width="11.44" height="5.72" fill="#ffb4b4"/>
<rect x="973.32" y="1112.24" width="5.72" height="5.72" fill="#ff3030"/>
<rect x="950.44" y="1117.96" width="5.72" height="5.72" fill="#ffb4b4"/>
<rect x="956.16" y="1117.96" width="5.72" height="5.72" fill="#ff3030"/>
<rect x="973.32" y="1117.96" width="5.72" height="5.72" fill="#ff3030"/>
<rect x="979.04" y="1117.96" width="5.72" height="5.72" fill="#ffb4b4"/>
<rect x="950.44" y="1123.68" width="5.72" height="5.72" fill="#ff3030"/>
<rect x="956.16" y="1123.68" width="5.72" height="5.72" fill="#ffb4b4"/>
<rect x="973.32" y="1123.68" width="5.72" height="5.72" fill="#ffb4b4"/>
<rect x="979.04" y="1123.68" width="5.72" height="5.72" fill="#ff3030"/>
<rect x="944.72" y="1129.40" width="5.72" height="5.72" fill="#ffb4b4"/>
<rect x="950.44" y="1129.40" width="5.72" height="5.72" fill="#ff3030"/>
<rect x="979.04" y="1129.40" width="5.72" height="5.72" fill="#ff3030"/>
<rect x="984.76" y="1129.40" width="5.72" height="5.72" fill="#ffb4b4"/>
<rect x="944.72" y="1135.12" width="5.72" height="5.72" fill="#ff3030"/>
<rect x="950.44" y="1135.12" width="5.72" height="5.72" fill="#ffb4b4"/>
<rect x="979.04" y="1135.12" width="5.72" height="5.72" fill="#ffb4b4"/>
<rect x="984.76" y="1135.12" width="5.72" height="5.72" fill="#ff3030"/>
<rect x="939.00" y="1140.84" width="5.72" height="5.72" fill="#ffb4b4"/>
<rect x="944.72" y="1140.84" width="5.72" height="5.72" fill="#ff0000"/>
<rect x="950.44" y="1140.84" width="34.32" height="5.72" fill="#ff8080"/>
<rect x="984.76" y="1140.84" width="5.72" height="5.72" fill="#ff0000"/>
<rect x="990.48" y="1140.84" width="5.72" height="5.72" fill="#ffb4b4"/>
<rect x="944.72" y="1146.56" width="45.76" height="5.72" fill="#ff8080"/>
<rect x="1259.20" y="1089.68" width="57.20" height="57.20" fill="#fff"/>
<rect x="1282.08" y="1095.40" width="11.44" height="5.72" fill="#ff0000"/>
<rect x="1276.36" y="1101.12" width="5.72" height="5.72" fill="#ffb4b4"/>
<rect x="1282.08" y="1101.12" width="11.44" height="5.72" fill="#ff3030"/>
<rect x="1293.52" y="1101.12" width="5.72" height="5.72" fill="#ffb4b4"/>
<rect x="1276.36" y="1106.84" width="5.72" height="5.72" fill="#ff3030"/>
<rect x="1282.08" y="1106.84" width="11.44" height="5.72" fill="#ffb4b4"/>
<rect x="1293.52" y="1106.84" width="5.72" height="5.72" fill="#ff3030"/>
<rect x="1270.64" y="1112.56" width="5.72" height="5.72" fill="#ffb4b4"/>
<rect x="1276.36" y="1112.56" width="5.72" height="5.72" fill="#ff3030"/>
<rect x="1293.52" y="1112.56" width="5.72" height="5.72" fill="#ff3030"/>
<rect x="1299.24" y="1112.56" width="5.72" height="5.72" fill="#ffb4b4"/>
<rect x="1270.64" y="1118.28" width="5.72" height="5.72" fill="#ff3030"/>
<rect x="1276.36" y="1118.28" width="5.72" height="5.72" fill="#ffb4b4"/>
<rect x="1293.52" y="1118.28" width="5.72" height="5.72" fill="#ffb4b4"/>
<rect x="1299.24" y="1118.28" width="5.72" height="5.72" fill="#ff3030"/>
<rect x="1264.92" y="1124.00" width="5.72" height="5.72" fill="#ffb4b4"/>
<rect x="1270.64" y="1124.00" width="5.72" height="5.72" fill="#ff3030"/>
<rect x="1299.24" y="1124.00" width="5.72" height="5.72" fill="#ff3030"/>
<rect x="1304.96" y="1124.00" width="5.72" height="5.72" fill="#ffb4b4"/>
<rect x="1264.92" y="1129.72" width="5.72" height="5.72" fill="#ff3030"/>
<rect x="1270.64" y="1129.72" width="5.72" height="5.72" fill="#ffb4b4"/>
<rect x="1299.24" y="1129.72" width="5.72" height="5.72" fill="#ffb4b4"/>
<rect x="1304.96" y="1129.72" width="5.72" height="5.72" fill="#ff3030"/>
<rect x="1259.20" y="1135.44" width="5.72" height="5.72" fill="#ffb4b4"/>
<rect x="1264.92" y="1135.44" width="5.72" height="5.72" fill="#ff0000"/>
<rect x="1270.64" y="1135.44" width="34.32" height="5.72" fill="#ff8080"/>
<rect x="1304.96" y="1135.44" width="5.72" height="5.72" fill="#ff0000"/>
<rect x="1310.68" y="1135.44" width="5.72" height="5.72" fill="#ffb4b4"/>
<rect x="1264.92" y="1141.16" width="45.76" height="5.72" fill="#ff8080"/>
<rect x="1477.10" y="813.58" width="57.20" height="57.20" fill="#fff"/>
<rect x="1499.98" y="819.30" width="11.44" height="5.72" fill="#ff0000"/>
<rect x="1494.26" y="825.02" width="5.72" height="5.72" fill="#ffb4b4"/>
<rect x="1499.98" y="825.02" width="11.44" height="5.72" fill="#ff3030"/>
<rect x="1511.42" y="825.02" width="5.72" height="5.72" fill="#ffb4b4"/>
<rect x="1494.26" y="830.74" width="5.72" height="5.72" fill="#ff3030"/>
<rect x="1499.98" y="830.74" width="11.44" height="5.72" fill="#ffb4b4"/>
<rect x="1511.42" y="830.74" width="5.72" height="5.72" fill="#ff3030"/>
<rect x="1488.54" y="836.46" width="5.72" height="5.72" fill="#ffb4b4"/>
<rect x="1494.26" y="836.46" width="5.72" height="5.72" fill="#ff3030"/>
<rect x="1511.42" y="836.46" width="5.72" height="5.72" fill="#ff3030"/>
<rect x="1517.14" y="836.46" width="5.72" height="5.72" fill="#ffb4b4"/>
<rect x="1488.54" y="842.18" width="5.72" height="5.72" fill="#ff3030"/>
<rect x="1494.26" y="842.18" width="5.72" height="5.72" fill="#ffb4b4"/>
<rect x="1511.42" y="842.18" width="5.72" height="5.72" fill="#ffb4b4"/>
<rect x="1517.14" y="842.18" width="5.72" height="5.72" fill="#ff3030"/>
<rect x="1482.82" y="847.90" width="5.72" height="5.72" fill="#ffb4b4"/>
<rect x="1488.54" y="847.90" width="5.72" height="5.72" fill="#ff3030"/>
<rect x="1517.14" y="847.90" width="5.72" height="5.72" fill="#ff3030"/>
<rect x="1522.86" y="847.90" width="5.72" height="5.72" fill="#ffb4b4"/>
<rect x="1482.82" y="853.62" width="5.72" height="5.72" fill="#ff3030"/>
<rect x="1488.54" y="853.62" width="5.72" height="5.72" fill="#ffb4b4"/>
<rect x="1517.14" y="853.62" width="5.72" height="5.72" fill="#ffb4b4"/>
<rect x="1522.86" y="853.62" width="5.72" height="5.72" fill="#ff3030"/>
<rect x="1477.10" y="859.34" width="5.72" height="5.72" fill="#ffb4b4"/>
<rect x="1482.82" y="859.34" width="5.72" height="5.72" fill="#ff0000"/>
<rect x="1488.54" y="859.34" width="34.32" height="5.72" fill="#ff8080"/>
<rect x="1522.86" y="859.34" width="5.72" height="5.72" fill="#ff0000"/>
<rect x="1528.58" y="859.34" width="5.72" height="5.72" fill="#ffb4b4"/>
<rect x="1482.82" y="865.06" width="45.76" height="5.72" fill="#ff8080"/>
<rect x="1573.20" y="659.28" width="57.20" height="57.20" fill="#fff"/>
<rect x="1596.08" y="665.00" width="11.44" height="5.72" fill="#ff0000"/>
<rect x="1590.36" y="670.72" width="5.72" height="5.72" fill="#ffb4b4"/>
<rect x="1596.08" y="670.72" width="11.44" height="5.72" fill="#ff3030"/>
<rect x="1607.52" y="670.72" width="5.72" height="5.72" fill="#ffb4b4"/>
<rect x="1590.36" y="676.44" width="5.72" height="5.72" fill="#ff3030"/>
<rect x="1596.08" y="676.44" width="11.44" height="5.72" fill="#ffb4b4"/>
<rect x="1607.52" y="676.44" width="5.72" height="5.72" fill="#ff3030"/>
<rect x="1584.64" y="682.16" width="5.72" height="5.72" fill="#ffb4b4"/>
<rect x="1590.36" y="682.16" width="5.72" height="5.72" fill="#ff3030"/>
<rect x="1607.52" y="682.16" width="5.72" height="5.72" fill="#ff3030"/>
<rect x="1613.24" y="682.16" width="5.72" height="5.72" fill="#ffb4b4"/>
<rect x="1584.64" y="687.88" width="5.72" height="5.72" fill="#ff3030"/>
<rect x="1590.36" y="687.88" width="5.72" height="5.72" fill="#ffb4b4"/>
<rect x="1607.52" y="687.88" width="5.72" height="5.72" fill="#ffb4b4"/>
<rect x="1613.24" y="687.88" width="5.72" height="5.72" fill="#ff3030"/>
<rect x="1578.92" y="693.60" width="5.72" height="5.72" fill="#ffb4b4"/>
<rect x="1584.64" y="693.60" width="5.72" height="5.72" fill="#ff3030"/>
<rect x="1613.24" y="693.60" width="5.72" height="5.72" fill="#ff3030"/>
<rect x="1618.96" y="693.60" width="5.72" height="5.72" fill="#ffb4b4"/>
<rect x="1578.92" y="699.32" width="5.72" height="5.72" fill="#ff3030"/>
<rect x="1584.64" y="699.32" width="5.72" height="5.72" fill="#ffb4b4"/>
<rect x="1613.24" y="699.32" width="5.72" height="5.72" fill="#ffb4b4"/>
<rect x="1618.96" y="699.32" width="5.72" height="5.72" fill="#ff3030"/>
<rect x="1573.20" y="705.04" width="5.72" height="5.72" fill="#ffb4b4"/>
<rect x="1578.92" y="705.04" width="5.72" height="5.72" fill="#ff0000"/>
<rect x="1584.64" y="705.04" width="34.32" height="5.72" fill="#ff8080"/>
<rect x="1618.96" y="705.04" width="5.72" height="5.72" fill="#ff0000"/>
<rect x="1624.68" y="705.04" width="5.72" height="5.72" fill="#ffb4b4"/>
<rect x="1578.92" y="710.76" width="45.76" height="5.72" fill="#ff8080"/>
<rect x="1797.30" y="463.98" width="57.20" height="57.20" fill="#fff"/>
<rect x="1820.18" y="469.70" width="11.44" height="5.72" fill="#ff0000"/>
<rect x="1814.46" y="475.42" width="5.72" height="5.72" fill="#ffb4b4"/>
<rect x="1820.18" y="475.42" width="11.44" height="5.72" fill="#ff3030"/>
<rect x="1831.62" y="475.42" width="5.72" height="5.72" fill="#ffb4b4"/>
<rect x="1814.46" y="481.14" width="5.72" height="5.72" fill="#ff3030"/>
<rect x="1820.18" y="481.14" width="11.44" height="5.72" fill="#ffb4b4"/>
<rect x="1831.62" y="481.14" width="5.72" height="5.72" fill="#ff3030"/>
<rect x="1808.74" y="486.86" width="5.72" height="5.72" fill="#ffb4b4"/>
<rect x="1814.46" y="486.86" width="5.72" height="5.72" fill="#ff3030"/>
<rect x="1831.62" y="486.86" width="5.72" height="5.72" fill="#ff3030"/>
<rect x="1837.34" y="486.86" width="5.72" height="5.72" fill="#ffb4b4"/>
<rect x="1808.74" y="492.58" width="5.72" height="5.72" fill="#ff3030"/>
<rect x="1814.46" y="492.58" width="5.72" height="5.72" fill="#ffb4b4"/>
<rect x="1831.62" y="492.58" width="5.72" height="5.72" fill="#ffb4b4"/>
<rect x="1837.34" y="492.58" width="5.72" height="5.72" fill="#ff3030"/>
<rect x="1803.02" y="498.30" width="5.72" height="5.72" fill="#ffb4b4"/>
<rect x="1808.74" y="498.30" width="5.72" height="5.72" fill="#ff3030"/>
<rect x="1837.34" y="498.30" width="5.72" height="5.72" fill="#ff3030"/>
<rect x="1843.06" y="498.30" width="5.72" height="5.72" fill="#ffb4b4"/>
<rect x="1803.02" y="504.02" width="5.72" height="5.72" fill="#ff3030"/>
<rect x="1808.74" y="504.02" width="5.72" height="5.72" fill="#ffb4b4"/>
<rect x="1837.34" y="504.02" width="5.72" height="5.72" fill="#ffb4b4"/>
<rect x="1843.06" y="504.02" width="5.72" height="5.72" fill="#ff3030"/>
<rect x="1797.30" y="509.74" width="5.72" height="5.72" fill="#ffb4b4"/>
<rect x="1803.02" y="509.74" width="5.72" height="5.72" fill="#ff0000"/>
<rect x="1808.74" y="509.74" width="34.32" height="5.72" fill="#ff8080"/>
<rect x="1843.06" y="509.74" width="5.72" height="5.72" fill="#ff0000"/>
<rect x="1848.78" y="509.74" width="5.72" height="5.72" fill="#ffb4b4"/>
<rect x="1803.02" y="515.46" width="45.76" height="5.72" fill="#ff8080"/>
<rect x="1888.20" y="269.18" width="57.20" height="57.20" fill="#fff"/>
<rect x="1911.08" y="274.90" width="11.44" height="5.72" fill="#ff0000"/>
<rect x="1905.36" y="280.62" width="5.72" height="5.72" fill="#ffb4b4"/>
<rect x="1911.08" y="280.62" width="11.44" height="5.72" fill="#ff3030"/>
<rect x="1922.52" y="280.62" width="5.72" height="5.72" fill="#ffb4b4"/>
<rect x="1905.36" y="286.34" width="5.72" height="5.72" fill="#ff3030"/>
<rect x="1911.08" y="286.34" width="11.44" height="5.72" fill="#ffb4b4"/>
<rect x="1922.52" y="286.34" width="5.72" height="5.72" fill="#ff3030"/>
<rect x="1899.64" y="292.06" width="5.72" height="5.72" fill="#ffb4b4"/>
<rect x="1905.36" y="292.06" width="5.72" height="5.72" fill="#ff3030"/>
<rect x="1922.52" y="292.06" width="5.72" height="5.72" fill="#ff3030"/>
<rect x="1928.24" y="292.06" width="5.72" height="5.72" fill="#ffb4b4"/>
<rect x="1899.64" y="297.78" width="5.72" height="5.72" fill="#ff3030"/>
<rect x="1905.36" y="297.78" width="5.72" height="5.72" fill="#ffb4b4"/>
<rect x="1922.52" y="297.78" width="5.72" height="5.72" fill="#ffb4b4"/>
<rect x="1928.24" y="297.78" width="5.72" height="5.72" fill="#ff3030"/>
<rect x="1893.92" y="303.50" width="5.72" height="5.72" fill="#ffb4b4"/>
<rect x="1899.64" y="303.50" width="5.72" height="5.72" fill="#ff3030"/>
<rect x="1928.24" y="303.50" width="5.72" height="5.72" fill="#ff3030"/>
<rect x="1933.96" y="303.50" width="5.72" height="5.72" fill="#ffb4b4"/>
<rect x="1893.92" y="309.22" width="5.72" height="5.72" fill="#ff3030"/>
<rect x="1899.64" y="309.22" width="5.72" height="5.72" fill="#ffb4b4"/>
<rect x="1928.24" y="309.22" width="5.72" height="5.72" fill="#ffb4b4"/>
<rect x="1933.96" y="309.22" width="5.72" height="5.72" fill="#ff3030"/>
<rect x="1888.20" y="314.94" width="5.72" height="5.72" fill="#ffb4b4"/>
<rect x="1893.92" y="314.94" width="5.72" height="5.72" fill="#ff0000"/>
<rect x="1899.64" y="314.94" width="34.32" height="5.72" fill="#ff8080"/>
<rect x="1933.96" y="314.94" width="5.72" height="5.72" fill="#ff0000"/>
<rect x="1939.68" y="314.94" width="5.72" height="5.72" fill="#ffb4b4"/>
<rect x="1893.92" y="320.66" width="45.76" height="5.72" fill="#ff8080"/>
</g>
<line x1="330.5" y1="1221.2" x2="965" y2="922" stroke="#0000ff" stroke-width="6.6" stroke-dasharray="46 17"/>
<line x1="342.7" y1="1323.5" x2="950" y2="1140" stroke="#ff0000" stroke-width="6.6" stroke-dasharray="46 17"/>
<path d="M964.2,918.0 L967.5,918.0 L970.8,918.0 L974.2,917.9 L977.5,917.9 L980.8,917.9 L984.1,917.8 L987.5,917.8 L990.8,917.8 L994.1,917.7 L997.4,917.7 L1000.7,917.7 L1004.1,917.6 L1007.4,917.6 L1010.7,917.5 L1014.0,917.5 L1017.3,917.5 L1020.6,917.4 L1024.0,917.4 L1027.3,917.3 L1030.6,917.3 L1033.9,917.2 L1037.2,917.2 L1040.5,917.1 L1043.8,917.1 L1047.1,917.0 L1050.4,916.9 L1053.7,916.9 L1057.0,916.8 L1060.3,916.8 L1063.6,916.7 L1066.9,916.6 L1070.3,916.6 L1073.6,916.5 L1076.9,916.4 L1080.2,916.3 L1083.5,916.3 L1086.8,916.2 L1090.1,916.1 L1093.4,916.0 L1096.7,915.9 L1100.0,915.8 L1103.3,915.7 L1106.6,915.6 L1109.9,915.5 L1113.2,915.4 L1116.5,915.3 L1119.8,915.2 L1123.2,915.1 L1126.5,915.0 L1129.8,914.9 L1133.1,914.8 L1136.4,914.7 L1139.7,914.5 L1143.0,914.4 L1146.3,914.3 L1149.7,914.1 L1153.0,914.0 L1156.3,913.8 L1159.6,913.7 L1162.9,913.5 L1166.2,913.4 L1169.6,913.2 L1172.9,913.0 L1176.2,912.9 L1179.5,912.7 L1182.8,912.5 L1186.1,912.3 L1189.5,912.1 L1192.8,911.8 L1196.1,911.6 L1199.4,911.4 L1202.7,911.1 L1206.0,910.9 L1209.4,910.6 L1212.7,910.3 L1216.0,910.0 L1219.3,909.7 L1222.6,909.4 L1225.9,909.1 L1229.2,908.8 L1232.5,908.4 L1235.8,908.0 L1239.1,907.7 L1242.4,907.3 L1245.7,906.8 L1249.0,906.4 L1252.3,906.0 L1255.5,905.5 L1258.8,905.1 L1262.1,904.6 L1265.4,904.1 L1268.7,903.5 L1271.9,903.0 L1275.2,902.5 L1278.5,901.9 L1281.7,901.3 L1285.0,900.7 L1288.2,900.0 L1291.5,899.4 L1294.7,898.7 L1298.0,898.0 L1301.2,897.3 L1304.4,896.6 L1307.7,895.8 L1310.9,895.0 L1314.1,894.2 L1317.3,893.4 L1320.6,892.6 L1323.8,891.7 L1327.0,890.8 L1330.1,889.9 L1333.3,888.9 L1336.5,888.0 L1339.7,887.0 L1342.8,885.9 L1345.9,884.8 L1349.1,883.7 L1352.2,882.6 L1355.2,881.4 L1358.3,880.1 L1361.4,878.9 L1364.4,877.5 L1367.4,876.2 L1370.4,874.8 L1373.3,873.3 L1376.2,871.8 L1379.2,870.3 L1382.0,868.7 L1384.9,867.1 L1387.7,865.4 L1390.5,863.7 L1393.3,862.0 L1396.1,860.2 L1398.9,858.4 L1401.6,856.5 L1404.3,854.6 L1407.0,852.7 L1409.6,850.7 L1412.3,848.8 L1414.9,846.7 L1417.5,844.7 L1420.1,842.6 L1422.7,840.6 L1425.2,838.4 L1427.8,836.3 L1430.3,834.1 L1432.8,832.0 L1435.3,829.8 L1437.8,827.5 L1440.2,825.3 L1442.6,823.1 L1445.1,820.8 L1447.5,818.5 L1449.9,816.2 L1452.3,813.9 L1454.7,811.6 L1457.0,809.3 L1459.4,806.9 L1461.8,804.6 L1464.1,802.2 L1466.5,799.8 L1468.8,797.5 L1471.1,795.1 L1473.5,792.7 L1475.8,790.4 L1478.1,788.0 L1480.4,785.6 L1482.8,783.2 L1485.1,780.8 L1487.4,778.5 L1489.7,776.1 L1492.0,773.7 L1494.4,771.4 L1496.7,769.0 L1499.0,766.6 L1501.3,764.2 L1503.6,761.9 L1505.9,759.5 L1508.2,757.1 L1510.5,754.7 L1512.8,752.3 L1515.1,749.9 L1517.3,747.5 L1519.6,745.1 L1521.8,742.7 L1524.1,740.3 L1526.3,737.8 L1528.5,735.4 L1530.7,732.9 L1532.9,730.5 L1535.1,728.0 L1537.3,725.5 L1539.5,723.0 L1541.6,720.5 L1543.8,718.0 L1545.9,715.5 L1548.1,713.0 L1550.2,710.4 L1552.3,707.9 L1554.4,705.3 L1556.5,702.8 L1558.6,700.2 L1560.7,697.7 L1562.8,695.1 L1564.9,692.6 L1567.0,690.0 L1569.1,687.4 L1571.2,684.8 L1573.3,682.2 L1575.3,679.7 L1577.4,677.1 L1579.5,674.5 L1581.5,671.9 L1583.6,669.3 L1585.7,666.7 L1587.7,664.1 L1589.8,661.5 L1591.9,658.9 L1593.9,656.3 L1596.0,653.8 L1598.1,651.2 L1600.1,648.6 L1602.2,646.0 L1604.3,643.4 L1606.3,640.8 L1608.4,638.2 L1610.5,635.6 L1612.5,633.0 L1614.6,630.4 L1616.7,627.8 L1618.7,625.2 L1620.8,622.6 L1622.9,620.0 L1624.9,617.4 L1627.0,614.8 L1629.1,612.2 L1631.1,609.6 L1633.2,607.0 L1635.2,604.4 L1637.3,601.8 L1639.3,599.2 L1641.4,596.6 L1643.4,594.0 L1645.5,591.4 L1647.5,588.8 L1649.6,586.2 L1651.6,583.6 L1653.7,581.0 L1655.7,578.4 L1657.7,575.7 L1659.8,573.1 L1661.8,570.5 L1663.8,567.9 L1665.9,565.3 L1667.9,562.6 L1669.9,560.0 L1671.9,557.4 L1673.9,554.7 L1675.9,552.1 L1677.9,549.5 L1679.9,546.8 L1681.9,544.2 L1683.9,541.5 L1685.9,538.9 L1687.9,536.2 L1689.9,533.6 L1691.9,530.9 L1693.9,528.3 L1695.9,525.6 L1697.8,523.0 L1699.8,520.3 L1701.8,517.6 L1703.8,515.0 L1705.7,512.3 L1707.7,509.6 L1709.7,507.0 L1711.6,504.3 L1713.6,501.6 L1715.5,499.0 L1717.5,496.3 L1719.4,493.6 L1721.4,490.9 L1723.3,488.2 L1725.2,485.5 L1727.2,482.9 L1729.1,480.2 L1731.0,477.5 L1733.0,474.8 L1734.9,472.1 L1736.8,469.4 L1738.8,466.7 L1740.7,464.0 L1742.6,461.3 L1744.5,458.6 L1746.4,455.9 L1748.3,453.2 L1750.2,450.5 L1752.2,447.7 L1754.1,445.0 L1756.0,442.3 L1757.9,439.6 L1759.8,436.9 L1761.7,434.2 L1763.6,431.4 L1765.4,428.7 L1767.3,426.0 L1769.2,423.3 L1771.1,420.5 L1773.0,417.8 L1774.9,415.1 L1776.8,412.4 L1778.6,409.6 L1780.5,406.9 L1782.4,404.1 L1784.3,401.4 L1786.1,398.7 L1788.0,395.9 L1789.9,393.2 L1791.7,390.4 L1793.6,387.7 L1795.4,384.9 L1797.3,382.2 L1799.1,379.4 L1800.9,376.6 L1802.8,373.9 L1804.6,371.1 L1806.4,368.3 L1808.3,365.6 L1810.1,362.8 L1811.9,360.0 L1813.7,357.2 L1815.5,354.4 L1817.3,351.6 L1819.1,348.9 L1820.8,346.1 L1822.6,343.3 L1824.4,340.5 L1826.1,337.6 L1827.9,334.8 L1829.6,332.0 L1831.4,329.2 L1833.1,326.4 L1834.8,323.5 L1836.5,320.7 L1838.3,317.9 L1840.0,315.0 L1841.6,312.2 L1843.3,309.3 L1845.0,306.5 L1846.7,303.6 L1848.3,300.8 L1850.0,297.9 L1851.6,295.0 L1853.3,292.1 L1854.9,289.3 L1856.5,286.4 L1858.1,283.5 L1859.7,280.6 L1861.3,277.7 L1862.9,274.8 L1864.4,271.8 L1866.0,268.9 L1867.5,266.0 L1869.0,263.1 L1870.6,260.1 L1872.1,257.2 L1873.6,254.2 L1875.1,251.3 L1876.5,248.3 L1878.0,245.3 L1879.4,242.4 L1880.9,239.4 L1882.3,236.4 L1883.7,233.4 L1885.1,230.4 L1886.5,227.4 L1887.9,224.4 L1889.3,221.3 L1890.6,218.3 L1891.9,215.3 L1893.3,212.2 L1894.6,209.2 L1895.9,206.1 L1897.2,203.1 L1898.5,200.0 L1899.7,196.9 L1901.0,193.9 L1902.2,190.8 L1903.5,187.7 L1904.7,184.6 L1905.9,181.5 L1907.2,178.5 L1908.4,175.4 L1909.6,172.3 L1910.8,169.2 L1912.0,166.1 L1913.2,163.0 L1914.4,159.9 L1915.6,156.8" fill="none" stroke="#0000ff" stroke-width="7.3" stroke-linejoin="round"/>
<path d="M959.9,1132.9 L963.4,1132.9 L966.9,1132.9 L970.4,1132.9 L973.9,1132.9 L977.3,1132.8 L980.8,1132.8 L984.3,1132.8 L987.8,1132.8 L991.2,1132.8 L994.7,1132.7 L998.1,1132.7 L1001.6,1132.7 L1005.1,1132.7 L1008.5,1132.6 L1012.0,1132.6 L1015.4,1132.6 L1018.9,1132.6 L1022.3,1132.5 L1025.8,1132.5 L1029.2,1132.5 L1032.6,1132.4 L1036.1,1132.4 L1039.5,1132.3 L1043.0,1132.3 L1046.4,1132.3 L1049.8,1132.2 L1053.3,1132.2 L1056.7,1132.1 L1060.1,1132.0 L1063.6,1132.0 L1067.0,1131.9 L1070.4,1131.8 L1073.9,1131.8 L1077.3,1131.7 L1080.7,1131.6 L1084.1,1131.5 L1087.6,1131.5 L1091.0,1131.4 L1094.4,1131.3 L1097.8,1131.2 L1101.3,1131.1 L1104.7,1131.0 L1108.1,1130.8 L1111.6,1130.7 L1115.0,1130.6 L1118.4,1130.5 L1121.8,1130.3 L1125.3,1130.2 L1128.7,1130.1 L1132.1,1129.9 L1135.6,1129.8 L1139.0,1129.6 L1142.4,1129.4 L1145.9,1129.3 L1149.3,1129.1 L1152.7,1128.9 L1156.2,1128.7 L1159.6,1128.5 L1163.1,1128.3 L1166.5,1128.1 L1170.0,1127.9 L1173.4,1127.7 L1176.9,1127.5 L1180.3,1127.2 L1183.8,1127.0 L1187.2,1126.7 L1190.7,1126.5 L1194.2,1126.2 L1197.6,1125.9 L1201.1,1125.7 L1204.6,1125.4 L1208.0,1125.1 L1211.5,1124.8 L1215.0,1124.4 L1218.5,1124.1 L1221.9,1123.8 L1225.4,1123.4 L1228.9,1123.1 L1232.4,1122.7 L1235.8,1122.3 L1239.3,1121.9 L1242.8,1121.4 L1246.2,1121.0 L1249.7,1120.5 L1253.1,1120.1 L1256.6,1119.6 L1260.0,1119.0 L1263.5,1118.5 L1266.9,1117.9 L1270.3,1117.3 L1273.7,1116.7 L1277.2,1116.1 L1280.6,1115.4 L1284.0,1114.7 L1287.3,1114.0 L1290.7,1113.3 L1294.1,1112.5 L1297.4,1111.7 L1300.8,1110.9 L1304.1,1110.0 L1307.4,1109.1 L1310.7,1108.2 L1314.0,1107.3 L1317.3,1106.3 L1320.6,1105.3 L1323.8,1104.2 L1327.1,1103.1 L1330.3,1102.0 L1333.5,1100.8 L1336.7,1099.6 L1339.8,1098.4 L1343.0,1097.1 L1346.1,1095.7 L1349.2,1094.4 L1352.3,1093.0 L1355.4,1091.5 L1358.5,1090.0 L1361.5,1088.5 L1364.5,1086.9 L1367.5,1085.3 L1370.5,1083.6 L1373.5,1081.9 L1376.4,1080.1 L1379.3,1078.4 L1382.2,1076.5 L1385.1,1074.7 L1387.9,1072.8 L1390.8,1070.8 L1393.6,1068.8 L1396.4,1066.8 L1399.2,1064.8 L1401.9,1062.7 L1404.6,1060.6 L1407.4,1058.5 L1410.0,1056.3 L1412.7,1054.1 L1415.4,1051.9 L1418.0,1049.7 L1420.6,1047.4 L1423.2,1045.1 L1425.8,1042.8 L1428.3,1040.5 L1430.8,1038.1 L1433.4,1035.7 L1435.8,1033.3 L1438.3,1030.9 L1440.8,1028.4 L1443.2,1026.0 L1445.7,1023.5 L1448.1,1021.0 L1450.5,1018.5 L1452.9,1016.0 L1455.3,1013.5 L1457.7,1011.0 L1460.0,1008.5 L1462.4,1005.9 L1464.7,1003.4 L1467.0,1000.8 L1469.4,998.2 L1471.7,995.7 L1474.0,993.1 L1476.3,990.5 L1478.5,987.9 L1480.8,985.3 L1483.1,982.7 L1485.3,980.1 L1487.6,977.4 L1489.8,974.8 L1492.0,972.2 L1494.3,969.5 L1496.5,966.9 L1498.7,964.2 L1500.9,961.6 L1503.1,958.9 L1505.3,956.3 L1507.4,953.6 L1509.6,950.9 L1511.8,948.2 L1513.9,945.6 L1516.1,942.9 L1518.2,940.2 L1520.4,937.5 L1522.5,934.8 L1524.7,932.1 L1526.8,929.4 L1528.9,926.7 L1531.1,924.0 L1533.2,921.2 L1535.3,918.5 L1537.4,915.8 L1539.5,913.1 L1541.6,910.4 L1543.7,907.6 L1545.8,904.9 L1547.9,902.2 L1550.0,899.4 L1552.1,896.7 L1554.2,894.0 L1556.3,891.2 L1558.4,888.5 L1560.5,885.8 L1562.6,883.0 L1564.7,880.3 L1566.8,877.5 L1568.8,874.8 L1570.9,872.0 L1573.0,869.3 L1575.1,866.5 L1577.2,863.8 L1579.2,861.0 L1581.3,858.3 L1583.4,855.5 L1585.4,852.8 L1587.5,850.0 L1589.6,847.2 L1591.6,844.5 L1593.7,841.7 L1595.7,838.9 L1597.8,836.2 L1599.8,833.4 L1601.9,830.6 L1603.9,827.9 L1606.0,825.1 L1608.0,822.3 L1610.1,819.5 L1612.1,816.7 L1614.1,814.0 L1616.2,811.2 L1618.2,808.4 L1620.2,805.6 L1622.3,802.8 L1624.3,800.0 L1626.3,797.2 L1628.3,794.5 L1630.4,791.7 L1632.4,788.9 L1634.4,786.1 L1636.4,783.3 L1638.4,780.5 L1640.4,777.7 L1642.4,774.9 L1644.5,772.1 L1646.5,769.2 L1648.5,766.4 L1650.5,763.6 L1652.5,760.8 L1654.5,758.0 L1656.4,755.2 L1658.4,752.4 L1660.4,749.6 L1662.4,746.7 L1664.4,743.9 L1666.4,741.1 L1668.4,738.3 L1670.3,735.4 L1672.3,732.6 L1674.3,729.8 L1676.3,727.0 L1678.2,724.1 L1680.2,721.3 L1682.2,718.4 L1684.1,715.6 L1686.1,712.8 L1688.0,709.9 L1690.0,707.1 L1691.9,704.2 L1693.9,701.4 L1695.8,698.5 L1697.8,695.7 L1699.7,692.8 L1701.7,690.0 L1703.6,687.1 L1705.5,684.3 L1707.5,681.4 L1709.4,678.6 L1711.3,675.7 L1713.3,672.8 L1715.2,670.0 L1717.1,667.1 L1719.0,664.2 L1720.9,661.4 L1722.8,658.5 L1724.8,655.6 L1726.7,652.8 L1728.6,649.9 L1730.5,647.0 L1732.4,644.1 L1734.3,641.2 L1736.2,638.4 L1738.1,635.5 L1740.0,632.6 L1741.8,629.7 L1743.7,626.8 L1745.6,623.9 L1747.5,621.0 L1749.4,618.1 L1751.3,615.2 L1753.1,612.3 L1755.0,609.4 L1756.9,606.5 L1758.7,603.6 L1760.6,600.7 L1762.5,597.8 L1764.3,594.9 L1766.2,592.0 L1768.0,589.1 L1769.9,586.2 L1771.7,583.3 L1773.6,580.3 L1775.4,577.4 L1777.3,574.5 L1779.1,571.6 L1780.9,568.7 L1782.8,565.7 L1784.6,562.8 L1786.4,559.9 L1788.2,556.9 L1790.1,554.0 L1791.9,551.1 L1793.7,548.1 L1795.5,545.2 L1797.3,542.3 L1799.1,539.3 L1800.9,536.4 L1802.7,533.4 L1804.5,530.5 L1806.3,527.5 L1808.1,524.6 L1809.9,521.6 L1811.6,518.6 L1813.4,515.7 L1815.2,512.7 L1816.9,509.7 L1818.7,506.8 L1820.4,503.8 L1822.2,500.8 L1823.9,497.8 L1825.6,494.9 L1827.3,491.9 L1829.1,488.9 L1830.8,485.9 L1832.5,482.9 L1834.2,479.9 L1835.8,476.9 L1837.5,473.9 L1839.2,470.8 L1840.8,467.8 L1842.5,464.8 L1844.1,461.8 L1845.8,458.7 L1847.4,455.7 L1849.0,452.7 L1850.6,449.6 L1852.2,446.6 L1853.8,443.5 L1855.4,440.5 L1857.0,437.4 L1858.5,434.3 L1860.1,431.3 L1861.6,428.2 L1863.2,425.1 L1864.7,422.0 L1866.2,418.9 L1867.7,415.8 L1869.2,412.7 L1870.7,409.6 L1872.1,406.5 L1873.6,403.4 L1875.0,400.2 L1876.4,397.1 L1877.9,394.0 L1879.3,390.8 L1880.7,387.7 L1882.0,384.5 L1883.4,381.4 L1884.7,378.2 L1886.1,375.0 L1887.4,371.8 L1888.7,368.6 L1890.0,365.4 L1891.3,362.2 L1892.6,359.0 L1893.8,355.8 L1895.1,352.6 L1896.3,349.4 L1897.5,346.1 L1898.7,342.9 L1899.9,339.6 L1901.1,336.4 L1902.2,333.1 L1903.3,329.8 L1904.5,326.6 L1905.6,323.3 L1906.6,320.0 L1907.7,316.7 L1908.8,313.4 L1909.8,310.1 L1910.8,306.7 L1911.8,303.4" fill="none" stroke="#ff0000" stroke-width="7.3" stroke-linejoin="round"/>
<text transform="translate(277.5,86.7) scale(1,1.045)" text-anchor="end">0.45</text>
<text transform="translate(277.5,232.6) scale(1,1.045)" text-anchor="end">0.4</text>
<text transform="translate(277.5,378) scale(1,1.045)" text-anchor="end">0.35</text>
<text transform="translate(277.5,523.8) scale(1,1.045)" text-anchor="end">0.3</text>
<text transform="translate(277.5,668.8) scale(1,1.045)" text-anchor="end">0.25</text>
<text transform="translate(277.5,813.7) scale(1,1.045)" text-anchor="end">0.2</text>
<text transform="translate(277.5,959.6) scale(1,1.045)" text-anchor="end">0.15</text>
<text transform="translate(277.5,1104.9) scale(1,1.045)" text-anchor="end">0.1</text>
<text transform="translate(277.5,1250.6) scale(1,1.045)" text-anchor="end">0.05</text>
<text transform="translate(277.5,1395.7) scale(1,1.045)" text-anchor="end">0</text>
<text transform="translate(336.6,1479) scale(1,1.045)" text-anchor="middle">0.0001</text>
<text transform="translate(652.9,1479) scale(1,1.045)" text-anchor="middle">0.001</text>
<text transform="translate(968.9,1479) scale(1,1.045)" text-anchor="middle">0.01</text>
<text transform="translate(1285.1,1479) scale(1,1.045)" text-anchor="middle">0.1</text>
<text transform="translate(1601.1,1479) scale(1,1.045)" text-anchor="middle">1</text>
<text transform="translate(1918.4,1479) scale(1,1.045)" text-anchor="middle">10</text>
<text transform="translate(371.3,993.9) scale(1,1.035)">Untreated</text>
<text transform="translate(982.1,792.2) scale(1,1.045)">1610 cm<tspan font-size="45" dy="-18">-</tspan><tspan font-size="45" dy="-3">1</tspan></text>
<text transform="translate(1007.4,1257.3) scale(1,1.045)">1705 cm<tspan font-size="45" dy="-18">-</tspan><tspan font-size="45" dy="-3">1</tspan></text>
<text transform="translate(880.1,1589.8) scale(1,1.035)">Fluence, *10<tspan font-size="45" dy="-20">15</tspan><tspan dy="20"> ion/cm</tspan><tspan font-size="45" dy="-20">2</tspan></text>
<text transform="translate(90.1,917.7) rotate(-90) scale(1,1.035)">Absorbance, a.u.</text>
</svg>
</body></html>
